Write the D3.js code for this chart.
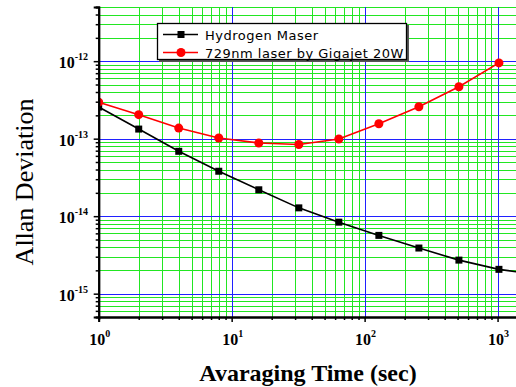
<!DOCTYPE html>
<html>
<head>
<meta charset="utf-8">
<script src="https://cdn.jsdelivr.net/npm/d3@7"></script>
<style>
  body { margin: 0; background: #fff; }
  svg { display: block; }
</style>
</head>
<body>
<div id="chart-area"></div>
<script>
// DATA
var tau = [1, 2, 4, 8, 16, 32, 64, 128, 256, 512, 1024, 2048];
var maser = [2.56e-13, 1.33e-13, 6.87e-14, 3.80e-14, 2.19e-14, 1.28e-14, 8.37e-15, 5.65e-15, 3.88e-15, 2.71e-15, 2.06e-15, 1.74e-15];
var laser = [2.96e-13, 2.04e-13, 1.37e-13, 1.02e-13, 8.8e-14, 8.4e-14, 9.9e-14, 1.56e-13, 2.58e-13, 4.67e-13, 9.5e-13];
var seriesNames = ["Hydrogen Maser", "729nm laser by Gigajet 20W"];
var xDecades = [1, 10, 100, 1000];
var xExp = ["0", "1", "2", "3"];
var yDecades = [1e-15, 1e-14, 1e-13, 1e-12];
var yExp = ["-15", "-14", "-13", "-12"];

var W = 516, H = 387;
// NOTE: "top" IS A WINDOW PROPERTY, SO KEEP THE PLOT EDGES IN AN OBJECT
var plot = { left: 98.7, right: 517, top: 7, bottom: 317 };

var svg = d3.select("#chart-area")
    .append("svg")
    .attr("width", W)
    .attr("height", H);

var x = d3.scaleLog().domain([1, 1400]).range([plot.left, plot.right]);
var y = d3.scaleLog().domain([5e-16, 5e-12]).range([plot.bottom, plot.top]);

// MINOR VALUES 2..9 IN EACH DECADE
function minors(scale) {
    var d = scale.domain(), out = [];
    var lo = Math.floor(Math.log10(d[0])), hi = Math.ceil(Math.log10(d[1]));
    for (var e = lo; e <= hi; e++) {
        for (var m = 2; m <= 9; m++) {
            var v = m * Math.pow(10, e);
            if (v >= d[0] * 0.999 && v <= d[1] * 1.001) out.push(v);
        }
    }
    return out;
}
var xMinor = minors(x), yMinor = minors(y);

svg.append("clipPath").attr("id", "plot")
    .append("rect")
    .attr("x", plot.left).attr("y", plot.top)
    .attr("width", plot.right - plot.left).attr("height", plot.bottom - plot.top);

var g = svg.append("g").attr("clip-path", "url(#plot)");

// GRID
function vgrid(vals, color) {
    g.append("g").selectAll("line").data(vals).enter().append("line")
        .attr("x1", function (d) { return Math.round(x(d)) + 0.5; })
        .attr("x2", function (d) { return Math.round(x(d)) + 0.5; })
        .attr("y1", plot.top).attr("y2", plot.bottom)
        .attr("stroke", color).attr("stroke-width", 1);
}
function hgrid(vals, color) {
    g.append("g").selectAll("line").data(vals).enter().append("line")
        .attr("y1", function (d) { return Math.round(y(d)) + 0.5; })
        .attr("y2", function (d) { return Math.round(y(d)) + 0.5; })
        .attr("x1", plot.left).attr("x2", plot.right)
        .attr("stroke", color).attr("stroke-width", 1);
}
vgrid(xMinor, "#22e622");
hgrid(yMinor, "#22e622");
vgrid(xDecades, "#2020ff");
hgrid(yDecades, "#2020ff");

// SERIES
var line = d3.line()
    .x(function (d) { return x(d[0]); })
    .y(function (d) { return y(d[1]); });

var maserPts = tau.map(function (t, i) { return [t, maser[i]]; });
var laserPts = laser.map(function (v, i) { return [tau[i], v]; });

g.append("path").datum(maserPts)
    .attr("d", line).attr("fill", "none")
    .attr("stroke", "#000").attr("stroke-width", 1.6);
g.append("g").selectAll("rect").data(maserPts).enter().append("rect")
    .attr("x", function (d) { return x(d[0]) - 3.5; })
    .attr("y", function (d) { return y(d[1]) - 3.5; })
    .attr("width", 7).attr("height", 7)
    .attr("fill", "#000");

g.append("path").datum(laserPts)
    .attr("d", line).attr("fill", "none")
    .attr("stroke", "#ff0000").attr("stroke-width", 1.6);
g.append("g").selectAll("circle").data(laserPts).enter().append("circle")
    .attr("cx", function (d) { return x(d[0]); })
    .attr("cy", function (d) { return y(d[1]); })
    .attr("r", 4.5)
    .attr("fill", "#ff0000");

// AXES (TICKS ONLY, LABELS DRAWN BELOW)
var xAxisMajor = d3.axisBottom(x).tickValues(xDecades).tickSize(5).tickFormat("");
var xAxisMinor = d3.axisBottom(x).tickValues(xMinor).tickSize(3).tickFormat("");
var yAxisMajor = d3.axisLeft(y).tickValues(yDecades).tickSize(5).tickFormat("");
var yAxisMinor = d3.axisLeft(y).tickValues(yMinor).tickSize(3).tickFormat("");

[xAxisMajor, xAxisMinor].forEach(function (a) {
    svg.append("g").attr("transform", "translate(0," + plot.bottom + ")").call(a);
});
[yAxisMajor, yAxisMinor].forEach(function (a) {
    svg.append("g").attr("transform", "translate(" + plot.left + ",0)").call(a);
});
svg.selectAll(".domain").attr("stroke", "#000").attr("stroke-width", 2);
svg.selectAll(".tick line").attr("stroke", "#000").attr("stroke-width", 1.5);

// TICK LABELS WITH SUPERSCRIPT
var xl = svg.append("g").selectAll("text").data(xDecades).enter().append("text")
    .attr("x", function (d) { return x(d) + 1; })
    .attr("y", 345)
    .attr("text-anchor", "middle")
    .attr("font-family", "Liberation Serif, Times New Roman, serif")
    .attr("font-weight", "bold")
    .attr("font-size", "16px");
xl.append("tspan").text("10");
xl.append("tspan").attr("dy", -8).attr("font-size", "10px")
    .text(function (d, i) { return xExp[i]; });

var yl = svg.append("g").selectAll("text").data(yDecades).enter().append("text")
    .attr("x", 88)
    .attr("y", function (d) { return y(d) + 7; })
    .attr("text-anchor", "end")
    .attr("font-family", "Liberation Serif, Times New Roman, serif")
    .attr("font-weight", "bold")
    .attr("font-size", "16px");
yl.append("tspan").text("10");
yl.append("tspan").attr("dy", -8).attr("font-size", "10px")
    .text(function (d, i) { return yExp[i]; });

// AXIS TITLES
svg.append("text")
    .attr("x", 308).attr("y", 381)
    .attr("text-anchor", "middle")
    .attr("font-family", "Liberation Serif, Times New Roman, serif")
    .attr("font-weight", "bold")
    .attr("font-size", "24px")
    .text("Avaraging Time (sec)");

svg.append("text")
    .attr("transform", "translate(33,182) rotate(-90)")
    .attr("text-anchor", "middle")
    .attr("font-family", "Liberation Serif, Times New Roman, serif")
    .attr("font-size", "26px")
    .text("Allan Deviation");

// LEGEND
var lg = svg.append("g");
lg.append("rect").attr("x", 159).attr("y", 25).attr("width", 250).attr("height", 37)
    .attr("fill", "#555");
lg.append("rect").attr("x", 157.5).attr("y", 23.5).attr("width", 249).attr("height", 36)
    .attr("fill", "#fff").attr("stroke", "#000").attr("stroke-width", 1.3);

var rows = [
    { name: seriesNames[0], color: "#000", shape: "square", y: 34.5 },
    { name: seriesNames[1], color: "#ff0000", shape: "circle", y: 52.5 }
];
rows.forEach(function (r) {
    lg.append("line").attr("x1", 163).attr("x2", 198)
        .attr("y1", r.y).attr("y2", r.y)
        .attr("stroke", r.color).attr("stroke-width", 1.6);
    if (r.shape == "square") {
        lg.append("rect").attr("x", 177.5).attr("y", r.y - 3.5)
            .attr("width", 7).attr("height", 7).attr("fill", r.color);
    } else {
        lg.append("circle").attr("cx", 181).attr("cy", r.y).attr("r", 4.5)
            .attr("fill", r.color);
    }
    lg.append("text").attr("x", 205).attr("y", r.y + 5)
        .attr("font-family", "DejaVu Sans, sans-serif")
        .attr("font-size", "13px")
        .attr("letter-spacing", "0.5px")
        .text(r.name);
});
</script>
</body>
</html>
